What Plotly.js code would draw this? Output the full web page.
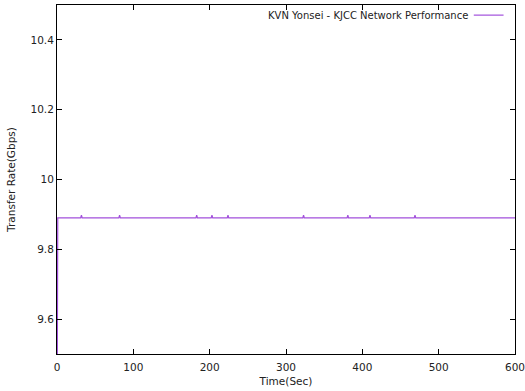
<!DOCTYPE html>
<html>
<head>
<meta charset="utf-8">
<script src="https://cdn.plot.ly/plotly-3.0.1.min.js"></script>
<style>html,body{margin:0;padding:0;background:#fff;}#chart{width:525px;height:391px;}</style>
</head>
<body>
<div id="chart"></div>
<script>
// Time (s) and transfer rate (Gbps)
const timeSec = [0, 1, 31, 32, 33, 81, 82, 83, 182, 183, 184, 202, 203, 204, 223, 224, 225,
                 322, 323, 324, 380, 381, 382, 409, 410, 411, 468, 469, 470, 600];
const rateGbps = [9.2, 9.89, 9.89, 9.898, 9.89, 9.89, 9.898, 9.89, 9.89, 9.898, 9.89, 9.89, 9.898, 9.89,
                  9.89, 9.898, 9.89, 9.89, 9.898, 9.89, 9.89, 9.898, 9.89, 9.89, 9.898, 9.89,
                  9.89, 9.898, 9.89, 9.89];
const seriesName = "KVN Yonsei - KJCC Network Performance";
const xTicks = [0, 100, 200, 300, 400, 500, 600];
const yTicks = [9.6, 9.8, 10, 10.2, 10.4];
const yTickLabels = ["9.6", "9.8", "10", "10.2", "10.4"];

const lineColor = "#a250dc";
const font = {family: "DejaVu Sans, sans-serif", size: 10.5, color: "#222"};
const legendFont = {family: "DejaVu Sans, sans-serif", size: 10, color: "#222"};

const trace = {
  x: timeSec, y: rateGbps, type: "scatter", mode: "lines",
  name: seriesName, line: {color: lineColor, width: 1.2}, showlegend: false
};

const axisCommon = {
  showline: true, linecolor: "#000", linewidth: 1, mirror: "allticks",
  ticks: "inside", ticklen: 5, tickcolor: "#000", tickwidth: 1,
  showgrid: false, zeroline: false, tickfont: font, ticklabeloverflow: "allow"
};

const layout = {
  width: 525, height: 391,
  margin: {l: 57, r: 10, t: 5, b: 37},
  paper_bgcolor: "#fff", plot_bgcolor: "#fff",
  font: font,
  xaxis: Object.assign({}, axisCommon, {
    range: [0, 600], tickvals: xTicks, ticktext: xTicks.map(String),
    ticklabelstandoff: 3,
    title: {text: "Time(Sec)", font: font, standoff: 6}
  }),
  yaxis: Object.assign({}, axisCommon, {
    range: [9.5, 10.5], tickvals: yTicks, ticktext: yTickLabels,
    title: {text: "Transfer Rate(Gbps)", font: font, standoff: 12}
  }),
  annotations: [{
    xref: "paper", yref: "paper", x: 0.902, y: 0.971, xanchor: "right", yanchor: "middle",
    text: seriesName, showarrow: false, font: legendFont
  }],
  shapes: [{
    type: "line", xref: "paper", yref: "paper", x0: 0.91, x1: 0.975, y0: 0.971, y1: 0.971,
    line: {color: lineColor, width: 1.2}
  }]
};

Plotly.newPlot("chart", [trace], layout, {displayModeBar: false, staticPlot: true});
</script>
</body>
</html>
